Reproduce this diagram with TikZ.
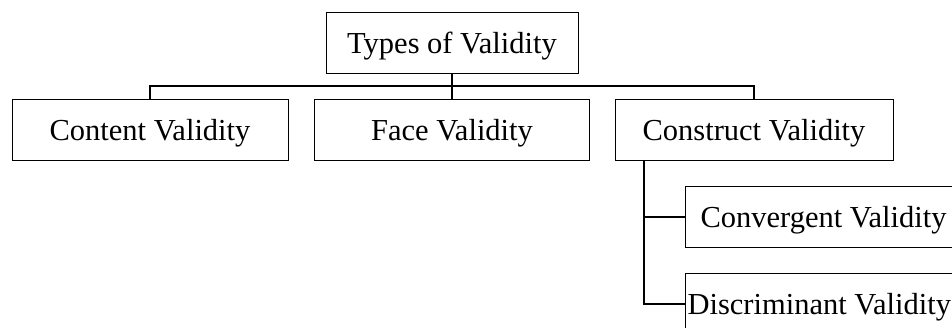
\documentclass[tikz,border=0pt]{standalone}
\usepackage{fontspec}
\setmainfont{Liberation Serif}
\begin{document}
\begin{tikzpicture}[x=1pt,y=-1pt,
  vbox/.style={draw=black, line width=1pt, minimum height=61pt, inner sep=0pt,
    text depth=0pt, font=\fontsize{30.5}{36}\selectfont},
  conn/.style={draw=black, line width=2.4pt}]
\clip (0,0) rectangle (952,327);
\fill[white] (0,0) rectangle (952,327);
\node[vbox, minimum width=252pt] (top) at (452,43) {Types of Validity};
\node[vbox, minimum width=276pt] (content) at (150,130) {Content Validity};
\node[vbox, minimum width=275pt] (face) at (452,130) {Face Validity};
\node[vbox, minimum width=278pt] (construct) at (754,130) {Construct Validity};
\node[vbox, anchor=west, text width=300pt, inner xsep=15pt, align=flush left] (conv) at (685,217) {Convergent Validity};
\node[vbox, anchor=west, text width=326pt, inner xsep=2pt, align=flush left] (disc) at (685,304) {Discriminant Validity};
\coordinate (bar) at (452,86);
\draw[conn] (top.south) -- (bar);
\draw[conn] (content.north) |- (bar) -| (construct.north);
\draw[conn] (face.north) -- (bar);
\coordinate (trunk) at (construct.south -| 644,0);
\draw[conn] (trunk) |- (conv.west);
\draw[conn] (trunk) |- (disc.west);
\end{tikzpicture}
\end{document}
